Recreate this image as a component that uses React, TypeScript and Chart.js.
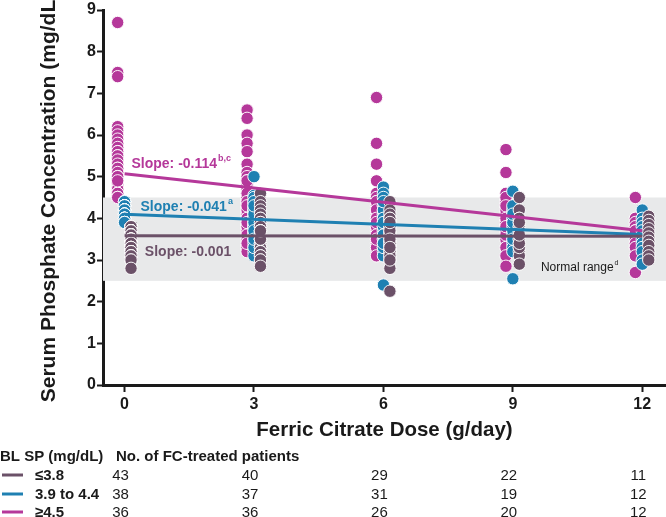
import React, { useEffect, useRef } from 'react';
import { Chart, registerables } from 'chart.js';

Chart.register(...registerables);

// ---------- data ----------
const DOSES = [0, 3, 6, 9, 12];
const X_TICKS = [0, 3, 6, 9, 12];
const Y_TICKS = [0, 1, 2, 3, 4, 5, 6, 7, 8, 9];

// Baseline SP >= 4.5 mg/dL (magenta), one array per dose
const HIGH_D0 = [8.7, 7.5, 7.4, 6.2, 6.1, 6.0, 5.9, 5.8, 5.7, 5.6, 5.6, 5.5, 5.5, 5.4, 5.3, 5.2, 5.2, 5.1, 5.0, 5.0, 4.9, 4.9, 4.8, 4.8, 4.8, 4.7, 4.7, 4.7, 4.6, 4.6, 4.6, 4.5, 4.5, 4.5, 5.0, 4.9];
const HIGH_D3 = [6.6, 6.4, 6.0, 5.8, 5.6, 5.3, 5.1, 5.0, 4.9, 4.8, 4.7, 4.6, 4.5, 4.4, 4.3, 4.2, 4.1, 4.0, 3.9, 3.8, 3.7, 3.6, 3.5, 3.4, 3.3, 3.2, 4.9, 4.6, 4.4, 4.2, 4.0, 3.8, 3.6, 3.4, 4.3, 3.9];
const HIGH_D6 = [6.9, 5.8, 5.3, 4.9, 4.6, 4.5, 4.4, 4.3, 4.2, 4.1, 4.0, 3.9, 3.8, 3.7, 3.6, 3.5, 3.4, 3.3, 3.1, 4.4, 4.2, 4.0, 3.8, 3.6, 3.9, 3.5];
const HIGH_D9 = [5.65, 5.1, 4.6, 4.4, 4.3, 4.1, 4.0, 3.8, 3.7, 3.5, 3.3, 3.1, 2.85, 4.5, 4.2, 3.9, 3.6, 4.3, 4.0, 3.8];
const HIGH_D12 = [4.5, 4.0, 3.9, 3.8, 3.7, 3.6, 3.5, 3.4, 3.3, 3.1, 2.7, 3.7];

// Baseline SP 3.9 to 4.4 mg/dL (blue)
const MID_D0 = [4.4, 4.4, 4.4, 4.4, 4.4, 4.4, 4.3, 4.3, 4.3, 4.3, 4.3, 4.3, 4.3, 4.2, 4.2, 4.2, 4.2, 4.2, 4.2, 4.2, 4.1, 4.1, 4.1, 4.1, 4.1, 4.1, 4.0, 4.0, 4.0, 4.0, 4.0, 4.0, 3.9, 3.9, 3.9, 3.9, 3.9, 3.9];
const MID_D3 = [5.0, 4.55, 4.4, 4.3, 4.2, 4.1, 4.0, 3.9, 3.8, 3.7, 3.6, 3.5, 3.4, 3.3, 3.2, 3.1, 4.5, 4.3, 4.2, 4.1, 4.0, 3.9, 3.8, 3.7, 3.6, 3.5, 4.4, 4.2, 4.0, 3.8, 3.6, 3.9, 4.1, 3.7, 4.3, 3.3, 3.5];
const MID_D6 = [4.75, 4.6, 4.4, 4.3, 4.2, 4.1, 4.0, 3.9, 3.8, 3.7, 3.6, 3.5, 3.4, 3.3, 3.2, 3.1, 2.4, 4.5, 4.3, 4.1, 3.9, 3.7, 3.5, 3.3, 4.2, 4.0, 3.8, 3.6, 4.4, 3.9, 3.4];
const MID_D9 = [4.65, 4.2, 4.1, 4.0, 3.9, 3.8, 3.7, 3.6, 3.5, 3.4, 3.3, 3.2, 2.55, 4.3, 4.0, 3.7, 3.5, 3.9, 4.1];
const MID_D12 = [4.2, 4.0, 3.9, 3.8, 3.7, 3.6, 3.5, 3.4, 3.3, 3.2, 3.0, 2.9];

// Baseline SP <= 3.8 mg/dL (purple-grey)
const LOW_D0 = [3.8, 3.8, 3.8, 3.8, 3.8, 3.7, 3.7, 3.7, 3.7, 3.7, 3.7, 3.6, 3.6, 3.6, 3.6, 3.6, 3.6, 3.5, 3.5, 3.5, 3.5, 3.5, 3.5, 3.4, 3.4, 3.4, 3.4, 3.4, 3.3, 3.3, 3.3, 3.3, 3.3, 3.2, 3.2, 3.2, 3.2, 3.1, 3.1, 3.1, 3.0, 3.0, 2.8];
const LOW_D3 = [4.6, 4.4, 4.3, 4.2, 4.1, 4.0, 4.0, 3.9, 3.9, 3.8, 3.8, 3.8, 3.7, 3.7, 3.7, 3.6, 3.6, 3.6, 3.6, 3.5, 3.5, 3.5, 3.5, 3.4, 3.4, 3.4, 3.3, 3.3, 3.3, 3.2, 3.2, 3.2, 3.1, 3.1, 3.0, 3.0, 2.85, 3.6, 3.5, 3.7];
const LOW_D6 = [4.4, 4.2, 4.1, 4.0, 3.9, 3.8, 3.7, 3.6, 3.5, 3.4, 3.3, 3.2, 3.1, 3.0, 2.8, 2.25, 4.0, 3.8, 3.6, 3.5, 3.4, 3.3, 3.2, 3.1, 3.7, 3.5, 3.9, 3.3, 3.0];
const LOW_D9 = [4.5, 4.2, 4.0, 3.9, 3.8, 3.7, 3.6, 3.5, 3.4, 3.3, 3.2, 3.1, 2.9, 4.0, 3.8, 3.6, 3.5, 3.3, 3.7, 3.4, 3.9, 3.6];
const LOW_D12 = [4.05, 3.95, 3.85, 3.75, 3.65, 3.55, 3.45, 3.35, 3.2, 3.1, 3.0];

// Regression lines (dose 0 -> 12)
const FIT_X = [0, 12];
const HIGH_FIT = [5.07, 3.70];
const MID_FIT = [4.10, 3.61];
const LOW_FIT = [3.58, 3.57];

const NORMAL_RANGE = [2.5, 4.5];

// Table under the chart
const GROUP_LABELS = ['≤3.8', '3.9 to 4.4', '≥4.5'];
const PATIENTS_LOW = [43, 40, 29, 22, 11];
const PATIENTS_MID = [38, 37, 31, 19, 12];
const PATIENTS_HIGH = [36, 36, 26, 20, 12];

// ---------- style ----------
const MAGENTA = '#b5389a';
const BLUE = '#1f80b2';
const PURPLE = '#6b5168';
const INK = '#1a1a1a';
const BAND = '#e8e9ea';
const FONT = "'Liberation Sans', Arial, Helvetica, sans-serif";

const OFFSET_HIGH = -0.16;
const OFFSET_MID = 0;
const OFFSET_LOW = 0.15;

const W = 666;
const H = 517;

const toPoints = (groups: number[][], offset: number) =>
  DOSES.flatMap((d, i) => groups[i].map((v) => ({ x: d + offset, y: v })));

const fitPoints = (ys: number[]) => FIT_X.map((x, i) => ({ x, y: ys[i] }));

const SLOPE_LABELS = [
  { text: 'Slope: -0.114', sup: 'b,c', x: 0.16, y: 5.3, color: MAGENTA },
  { text: 'Slope: -0.041', sup: 'a', x: 0.37, y: 4.27, color: BLUE },
  { text: 'Slope: -0.001', sup: '', x: 0.47, y: 3.2, color: PURPLE },
];
const RANGE_LABEL = { text: 'Normal range', sup: 'd', x: 9.65, y: 2.81 };

const annotationPlugin = {
  id: 'annotations',
  beforeDatasetsDraw(chart: any) {
    const { ctx, chartArea, scales } = chart;
    const y1 = scales.y.getPixelForValue(NORMAL_RANGE[1]);
    const y0 = scales.y.getPixelForValue(NORMAL_RANGE[0]);
    ctx.save();
    ctx.fillStyle = BAND;
    ctx.fillRect(chartArea.left, y1, chartArea.right - chartArea.left, y0 - y1);
    ctx.restore();
  },
  afterDatasetsDraw(chart: any) {
    const { ctx, scales } = chart;
    ctx.save();
    ctx.textBaseline = 'middle';
    ctx.textAlign = 'left';
    const drawSup = (text: string, sup: string, x: number, y: number, color: string, size: number, bold: boolean) => {
      ctx.fillStyle = color;
      ctx.font = `${bold ? 'bold ' : ''}${size}px ${FONT}`;
      ctx.fillText(text, x, y);
      const w = ctx.measureText(text).width;
      if (sup) {
        ctx.font = `${bold ? 'bold ' : ''}${Math.round(size * 0.62)}px ${FONT}`;
        ctx.fillText(sup, x + w + 1, y - size * 0.38);
      }
    };
    SLOPE_LABELS.forEach((l) => {
      drawSup(l.text, l.sup, scales.x.getPixelForValue(l.x), scales.y.getPixelForValue(l.y), l.color, 14, true);
    });
    drawSup(
      RANGE_LABEL.text,
      RANGE_LABEL.sup,
      scales.x.getPixelForValue(RANGE_LABEL.x),
      scales.y.getPixelForValue(RANGE_LABEL.y),
      INK,
      12,
      false
    );
    ctx.restore();
  },
  afterDraw(chart: any) {
    const { ctx, scales } = chart;
    ctx.save();
    ctx.textBaseline = 'alphabetic';
    ctx.fillStyle = INK;
    ctx.font = `bold 15px ${FONT}`;
    ctx.textAlign = 'left';
    ctx.fillText('BL SP (mg/dL)', 0, 461);
    ctx.fillText('No. of FC-treated patients', 116, 461);
    const rows = [
      { label: GROUP_LABELS[0], color: PURPLE, counts: PATIENTS_LOW, base: 480 },
      { label: GROUP_LABELS[1], color: BLUE, counts: PATIENTS_MID, base: 499 },
      { label: GROUP_LABELS[2], color: MAGENTA, counts: PATIENTS_HIGH, base: 517 },
    ];
    rows.forEach((r) => {
      ctx.strokeStyle = r.color;
      ctx.lineWidth = 3;
      ctx.beginPath();
      ctx.moveTo(2, r.base - 5);
      ctx.lineTo(23, r.base - 5);
      ctx.stroke();
      ctx.fillStyle = INK;
      ctx.font = `bold 15px ${FONT}`;
      ctx.textAlign = 'left';
      ctx.fillText(r.label, 35, r.base);
      ctx.font = `15px ${FONT}`;
      ctx.textAlign = 'center';
      r.counts.forEach((c, i) => {
        ctx.fillText(String(c), scales.x.getPixelForValue(DOSES[i]) - 4, r.base);
      });
    });
    ctx.restore();
  },
};

export default function App() {
  const ref = useRef<HTMLCanvasElement | null>(null);

  useEffect(() => {
    if (!ref.current) return;
    const pointStyle = (color: string) => ({
      type: 'scatter' as const,
      backgroundColor: color,
      borderColor: 'rgba(255,255,255,0.95)',
      pointRadius: 6.2,
      pointBorderWidth: 1,
      showLine: false,
    });
    const lineStyle = (color: string) => ({
      type: 'line' as const,
      borderColor: color,
      backgroundColor: color,
      borderWidth: 3,
      pointRadius: 0,
      fill: false,
      tension: 0,
    });
    const chart = new Chart(ref.current, {
      type: 'scatter',
      data: {
        datasets: [
          { ...lineStyle(PURPLE), data: fitPoints(LOW_FIT), order: 0 },
          { ...lineStyle(BLUE), data: fitPoints(MID_FIT), order: 0 },
          { ...lineStyle(MAGENTA), data: fitPoints(HIGH_FIT), order: 0 },
          { ...pointStyle(PURPLE), data: toPoints([LOW_D0, LOW_D3, LOW_D6, LOW_D9, LOW_D12], OFFSET_LOW), order: 1 },
          { ...pointStyle(BLUE), data: toPoints([MID_D0, MID_D3, MID_D6, MID_D9, MID_D12], OFFSET_MID), order: 2 },
          { ...pointStyle(MAGENTA), data: toPoints([HIGH_D0, HIGH_D3, HIGH_D6, HIGH_D9, HIGH_D12], OFFSET_HIGH), order: 3 },
        ] as any,
      },
      options: {
        responsive: false,
        animation: false,
        layout: { autoPadding: false, padding: { top: 10, left: 0, right: 0, bottom: 0 } },
        plugins: { legend: { display: false }, tooltip: { enabled: false } },
        scales: {
          x: {
            type: 'linear',
            min: -0.5,
            max: 12.55,
            afterBuildTicks: (s: any) => {
              s.ticks = X_TICKS.map((v) => ({ value: v }));
            },
            afterFit: (s: any) => {
              s.height = H - 385;
              s.paddingLeft = 0;
              s.paddingRight = 0;
            },
            ticks: {
              font: { family: FONT, size: 16, weight: 'bold' },
              color: INK,
              padding: 3,
              maxRotation: 0,
              autoSkip: false,
            },
            grid: { drawOnChartArea: false, drawTicks: true, tickLength: 7, tickWidth: 2, tickColor: INK },
            border: { display: true, width: 3, color: INK },
            title: {
              display: true,
              text: 'Ferric Citrate Dose (g/day)',
              font: { family: FONT, size: 20.5, weight: 'bold' },
              color: INK,
              padding: { top: 0, bottom: 74 },
            },
          },
          y: {
            type: 'linear',
            min: 0,
            max: 9,
            afterBuildTicks: (s: any) => {
              s.ticks = Y_TICKS.map((v) => ({ value: v }));
            },
            afterFit: (s: any) => {
              s.width = 103;
              s.paddingTop = 0;
              s.paddingBottom = 0;
            },
            ticks: {
              font: { family: FONT, size: 16, weight: 'bold' },
              color: INK,
              padding: 1,
            },
            grid: { drawOnChartArea: false, drawTicks: true, tickLength: 6, tickWidth: 2, tickColor: INK },
            border: { display: true, width: 3, color: INK },
            title: {
              display: true,
              text: 'Serum Phosphate Concentration (mg/dL)',
              font: { family: FONT, size: 21, weight: 'bold' },
              color: INK,
              padding: { top: 37, bottom: 0 },
            },
          },
        },
      } as any,
      plugins: [annotationPlugin],
    });
    return () => chart.destroy();
  }, []);

  return (
    <div style={{ position: 'fixed', left: 0, top: 0, width: W, height: H, background: '#fff' }}>
      <canvas ref={ref} width={W} height={H} style={{ width: W, height: H, display: 'block' }} />
    </div>
  );
}
